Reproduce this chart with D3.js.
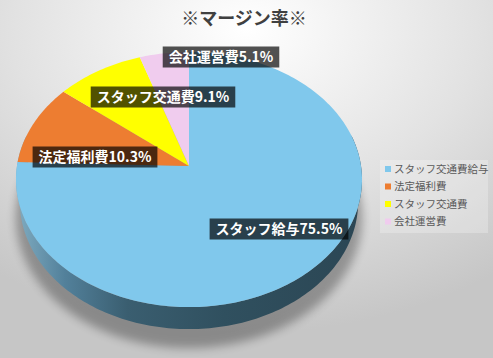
<!DOCTYPE html>
<html><head><meta charset="utf-8">
<script src="https://cdn.jsdelivr.net/npm/d3@7"></script>
<style>html,body{margin:0;padding:0;overflow:hidden;background:#fff}svg{display:block}</style>
</head><body>
<svg id="c" width="493" height="358"></svg>
<script>
// ---- data ----
const title = "※マージン率※";
const legendNames = ["スタッフ交通費給与", "法定福利費", "スタッフ交通費", "会社運営費"];
const labelNames = ["スタッフ給与", "法定福利費", "スタッフ交通費", "会社運営費"];
const values = [75.5, 10.3, 9.1, 5.1];
const colors = ["#80C8EC", "#ED7D31", "#FFFF00", "#F0CCEE"];
// label box centres (layout)
const labelCenters = [[279, 229], [95, 157], [163, 97], [221, 57]];

const W = 493, H = 358;
const svg = d3.select("#c");
const defs = svg.append("defs");

// background
const bg = defs.append("radialGradient").attr("id", "bg")
  .attr("cx", "50%").attr("cy", "8%").attr("r", "85%")
  .attr("gradientUnits", "objectBoundingBox");
bg.append("stop").attr("offset", "0%").attr("stop-color", "#ffffff");
bg.append("stop").attr("offset", "55%").attr("stop-color", "#e2e2e2");
bg.append("stop").attr("offset", "100%").attr("stop-color", "#c6c6c6");
svg.append("rect").attr("width", W).attr("height", H).attr("fill", "url(#bg)");

// side gradient
const sg = defs.append("linearGradient").attr("id", "side")
  .attr("x1", 17).attr("x2", 362).attr("y1", 0).attr("y2", 0)
  .attr("gradientUnits", "userSpaceOnUse");
[["0%", "#7fabc0"], ["14%", "#52809a"], ["32%", "#3a5e70"], ["60%", "#30505f"], ["100%", "#2b4654"]]
  .forEach(([o, c]) => sg.append("stop").attr("offset", o).attr("stop-color", c));

const blur = defs.append("filter").attr("id", "shadow")
  .attr("x", "-20%").attr("y", "-20%").attr("width", "140%").attr("height", "140%");
blur.append("feGaussianBlur").attr("stdDeviation", 5);

// ---- perspective projection ----
const cx = 189, cy = 166, K = 1101, D = 6.4;
const sinP = 0.733, cosP = 0.68, thick = 0.2;
function project(theta, r, h) {
  const X = r * Math.sin(theta), Z = -r * Math.cos(theta);
  const yc = Z * sinP - h * cosP;
  const depth = D - Z * cosP - h * sinP;
  return [cx + K * X / depth, cy + K * yc / depth];
}
const line = d3.line();
function arcPts(a0, a1, r, h) {
  const n = Math.max(2, Math.ceil((a1 - a0) / 0.02));
  return d3.range(n + 1).map(i => project(a0 + (a1 - a0) * i / n, r, h));
}

const pie = d3.pie().sort(null).value(d => d)(values);

// shadow
const shadowPts = arcPts(0, 2 * Math.PI, 1.03, -thick - 0.05).map(([x, y]) => [x, y + 9]);
svg.append("path").attr("d", line(shadowPts) + "Z")
  .attr("fill", "#000").attr("opacity", 0.3).attr("filter", "url(#shadow)");

// side
const a0 = Math.PI * 0.42, a1 = Math.PI * 1.58;
const sidePts = arcPts(a0, a1, 1, 0).concat(arcPts(a0, a1, 1, -thick).reverse());
svg.append("path").attr("d", line(sidePts) + "Z").attr("fill", "url(#side)");

// top slices
svg.append("g").selectAll("path").data(pie).join("path")
  .attr("d", d => line([project(0, 0, 0)].concat(arcPts(d.startAngle, d.endAngle, 1, 0))) + "Z")
  .attr("fill", (d, i) => colors[i]);

// labels
const lg = svg.append("g");
pie.forEach((d, i) => {
  const g = lg.append("g").attr("transform", `translate(${labelCenters[i][0]},${labelCenters[i][1]})`);
  const rect = g.append("rect").attr("fill", "rgba(0,0,0,0.68)");
  const t = g.append("text").attr("text-anchor", "middle").attr("dy", "0.36em")
    .attr("font-family", "'Noto Sans CJK JP', 'Noto Sans', sans-serif")
    .attr("font-size", 14).attr("font-weight", "bold").attr("fill", "#fff")
    .text(labelNames[i] + d3.format(".1f")(values[i]) + "%");
  const w = t.node().getComputedTextLength() + 12;
  rect.attr("x", -w / 2).attr("y", -10.5).attr("width", w).attr("height", 21);
});

// title
svg.append("text").attr("x", 244).attr("y", 25).attr("text-anchor", "middle")
  .attr("font-family", "'Noto Sans CJK JP', sans-serif").attr("font-size", 18)
  .attr("font-weight", "bold").attr("fill", "#404040").text(title);

// legend
const leg = svg.append("g").attr("transform", "translate(380,160)");
leg.append("rect").attr("width", 108).attr("height", 73).attr("fill", "rgba(255,255,255,0.25)");
const rows = leg.selectAll("g").data(legendNames).join("g")
  .attr("transform", (d, i) => `translate(5,${9 + i * 17.5})`);
rows.append("rect").attr("x", 0).attr("y", -3).attr("width", 6).attr("height", 6)
  .attr("fill", (d, i) => colors[i]);
rows.append("text").attr("x", 9).attr("dy", "0.36em")
  .attr("font-family", "'Noto Sans CJK JP', sans-serif").attr("font-size", 10.5)
  .attr("fill", "#595959").text(d => d);
</script>
</body></html>
